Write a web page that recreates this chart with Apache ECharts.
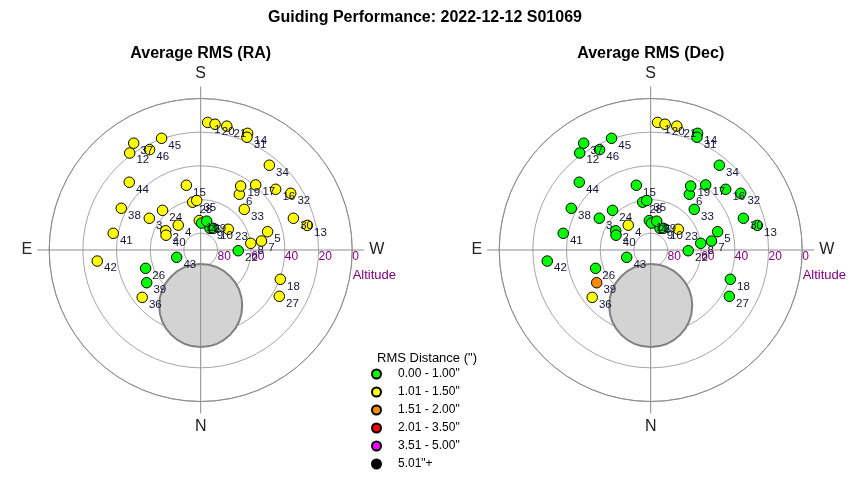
<!DOCTYPE html>
<html><head><meta charset="utf-8">
<script src="https://cdn.jsdelivr.net/npm/echarts@6/dist/echarts.min.js"></script>
<style>html,body{margin:0;padding:0;background:#fff}#c{width:850px;height:480px}</style>
</head><body><div id="c"></div>
<script>
// ---- data ----
const pointIds = ['1','2','3','4','5','6','7','8','9','10','11','12','13','14','15','16','17','18','19','20','21','22','23','24','25','26','27','28','29','30','31','32','33','34','35','36','37','38','39','40','41','42','43','44','45','46'];
const altitude = [14.1,66.3,54.1,70.1,48.8,49.7,53.5,60.0,76.0,75.1,72.5,18.6,25.0,15.3,50.6,32.7,39.4,39.6,45.2,14.8,14.8,67.7,69.5,57.3,74.0,55.5,35.8,61.2,72.5,31.8,17.6,26.8,54.6,25.2,60.5,45.3,15.1,36.7,52.5,67.6,37.1,28.2,75.1,31.5,19.7,23.1];
const azimuth  = [183.1,118.8,121.7,137.9,254.7,214.7,261.6,262.4,203.2,210.1,177.3,143.8,257.0,201.9,167.5,231.0,220.2,290.2,212.0,186.5,191.9,271.1,233.1,136.1,181.7,71.6,300.5,170.5,191.8,251.1,202.3,237.8,227.0,219.0,175.4,51.0,147.9,117.7,58.8,113.1,100.8,83.9,73.1,133.5,160.7,153.0];
const raRms    = [1.25,1.2,1.2,1.3,1.2,1.25,1.2,1.2,0.85,0.9,1.1,1.3,1.25,1.3,1.2,1.2,1.25,1.3,1.2,1.3,1.25,0.9,1.2,1.2,0.95,0.9,1.3,1.1,0.95,1.2,1.3,1.2,1.2,1.25,1.1,1.3,1.3,1.25,0.95,1.2,1.3,1.35,0.9,1.25,1.3,1.25];
const decRms   = [1.1,0.8,0.85,1.05,0.8,0.85,0.8,0.8,0.7,0.75,0.8,0.85,0.9,0.8,0.8,0.85,0.8,0.85,0.8,1.1,1.05,0.7,1.05,0.85,0.7,0.85,0.9,0.75,0.75,0.9,0.85,0.85,0.8,0.9,0.75,1.2,0.9,0.85,1.6,0.8,0.9,0.95,0.8,0.85,0.9,0.85];
const binNames  = ['0.00 - 1.00"','1.01 - 1.50"','1.51 - 2.00"','2.01 - 3.50"','3.51 - 5.00"','5.01"+'];
const binUpper  = [1.005,1.505,2.005,3.505,5.005,Infinity];
const binColors = ['#00ff00','#ffff00','#ff8c00','#ff0000','#ff00ff','#000000'];
const altitudeTicks = [0,20,40,60,80];
const compassLabels = {0:'W',90:'N',180:'E',270:'S'};
const exclusionAlt = 57, exclusionAz = 0;
const chartTitles = ['Average RMS (RA)','Average RMS (Dec)'];

// ---- build ----
const FONT = 'Liberation Sans, Arial, sans-serif';
const centers = [[200.7,250],[650.7,250]];
const R = 151.5;
const toAngle = az => (az + 90) % 360;
function bin(v){ for(let i=0;i<binUpper.length;i++) if(v<binUpper[i]) return i; return binUpper.length-1; }

const polar = centers.map(c => ({center:c, radius:R}));
const angleAxis = centers.map((c,i) => ({
  polarIndex:i, type:'value', min:0, max:360, interval:90, startAngle:0, clockwise:true, z:2,
  axisLine:{show:true, lineStyle:{color:'#8c8c8c', width:1}},
  axisTick:{show:true, length:12, lineStyle:{color:'#8c8c8c', width:1}},
  axisLabel:{show:true, margin:17, fontSize:16, color:'#222', fontFamily:FONT,
    formatter: v => compassLabels[v] !== undefined ? compassLabels[v] : ''},
  splitLine:{show:true, lineStyle:{color:'#8c8c8c', width:1}}
}));
const radiusAxis = centers.map((c,i) => ({
  polarIndex:i, type:'value', min:0, max:90, interval:20, inverse:true, z:0,
  axisLine:{show:false}, axisTick:{show:false},
  axisLabel:{show:true, fontSize:12, color:'#800080', fontFamily:FONT, align:'left', verticalAlign:'top', margin:-1,
    formatter: v => altitudeTicks.indexOf(v) >= 0 ? String(v) : ''},
  splitLine:{show:true, lineStyle:{color:'#a6a6a6', width:1}}
}));

const series = [];
[raRms, decRms].forEach((rms, pi) => {
  series.push({
    type:'scatter', coordinateSystem:'polar', polarIndex:pi, name:'exclusion', z:1, silent:true,
    symbolSize:83, data:[[exclusionAlt, toAngle(exclusionAz)]],
    itemStyle:{color:'#d3d3d3', borderColor:'#7f7f7f', borderWidth:2, opacity:1}
  });
  for (let b = binNames.length-1; b >= 0; b--) {
    const data = [];
    pointIds.forEach((id, k) => { if (bin(rms[k]) === b) data.push({name:id, value:[altitude[k], toAngle(azimuth[k])]}); });
    series.push({
      type:'scatter', coordinateSystem:'polar', polarIndex:pi, name:binNames[b], z:3,
      symbolSize:10.5, data,
      itemStyle:{color:binColors[b], borderColor:'#000', borderWidth:1, opacity:1},
      label:{show:true, position:'right', distance:1, offset:[0,7.2], formatter:'{b}', fontSize:11.5, color:'#121236', fontFamily:FONT}
    });
  }
});

const graphic = [
  {type:'text', x:425, y:18, style:{text:'Guiding Performance: 2022-12-12 S01069', align:'center', verticalAlign:'middle', fontSize:16, fontWeight:'bold', fontFamily:FONT, fill:'#000'}},
  {type:'text', x:centers[0][0], y:54, style:{text:chartTitles[0], align:'center', verticalAlign:'middle', fontSize:16, fontWeight:'bold', fontFamily:FONT, fill:'#000'}},
  {type:'text', x:centers[1][0], y:54, style:{text:chartTitles[1], align:'center', verticalAlign:'middle', fontSize:16, fontWeight:'bold', fontFamily:FONT, fill:'#000'}},
  {type:'text', x:centers[0][0]+R+0.5, y:275, style:{text:'Altitude', align:'left', verticalAlign:'middle', fontSize:13, fontFamily:FONT, fill:'#800080'}},
  {type:'text', x:centers[1][0]+R+0.5, y:275, style:{text:'Altitude', align:'left', verticalAlign:'middle', fontSize:13, fontFamily:FONT, fill:'#800080'}},
  {type:'text', x:377, y:358, style:{text:'RMS Distance (")', align:'left', verticalAlign:'middle', fontSize:13, fontFamily:FONT, fill:'#000'}}
];

const chart = echarts.init(document.getElementById('c'), null, {renderer:'canvas'});
chart.setOption({
  animation:false,
  backgroundColor:'#fff',
  polar, angleAxis, radiusAxis, series, graphic,
  legend:{data:binNames, orient:'vertical', left:371, top:367, padding:0, itemGap:4, selectedMode:false,
    icon:'circle', itemWidth:9, itemHeight:9,
    textStyle:{fontSize:12, lineHeight:14, color:'#000', fontFamily:FONT, padding:[0,0,0,12]}}
});
</script></body></html>
